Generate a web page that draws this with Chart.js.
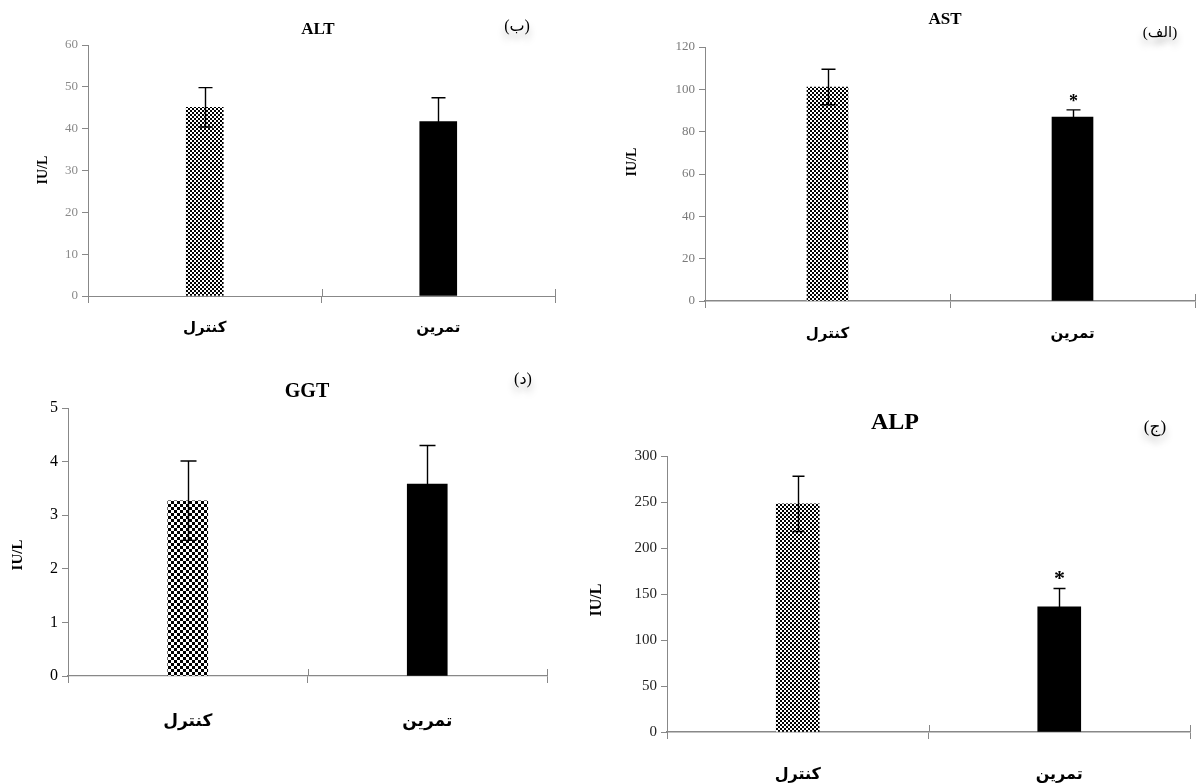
<!DOCTYPE html>
<html>
<head>
<meta charset="utf-8">
<script src="https://cdn.jsdelivr.net/npm/chart.js@4.4.1/dist/chart.umd.min.js"></script>
<style>
  html, body { margin: 0; padding: 0; background: #fff; }
  #wrap { position: relative; width: 1200px; height: 783px; overflow: hidden; }
  canvas { position: absolute; left: 0; top: 0; }
</style>
</head>
<body>
<div id="wrap">
  <canvas id="cALT" width="1200" height="783"></canvas>
  <canvas id="cAST" width="1200" height="783"></canvas>
  <canvas id="cGGT" width="1200" height="783"></canvas>
  <canvas id="cALP" width="1200" height="783"></canvas>
</div>
<script>
// ---------- DATA ----------
const categories = ['کنترل', 'تمرین'];

const altMean = [45.1, 41.7];
const altErr  = [4.7, 5.7];
const altSig  = [false, false];

const astMean = [101.1, 86.9];
const astErr  = [8.4, 3.4];
const astSig  = [false, true];

const ggtMean = [3.27, 3.58];
const ggtErr  = [0.74, 0.72];
const ggtSig  = [false, false];

const alpMean = [248, 136];
const alpErr  = [30, 20];
const alpSig  = [false, true];

const altTicks = { min: 0, max: 60, step: 10 };
const astTicks = { min: 0, max: 120, step: 20 };
const ggtTicks = { min: 0, max: 5, step: 1 };
const alpTicks = { min: 0, max: 300, step: 50 };

const panelTitles = ['ALT', 'AST', 'GGT', 'ALP'];
const panelTags   = ['(ب)', '(الف)', '(د)', '(ج)'];
const yTitle = 'IU/L';

// ---------- STYLE / LAYOUT ----------
const W = 1200, H = 783;
const Y_W = 50;
const SERIF = '"Liberation Serif", "DejaVu Serif", serif';
const ARAB = '"Liberation Serif", "DejaVu Sans", sans-serif';

function checker(cell) {
  const c = document.createElement('canvas');
  c.width = cell * 2; c.height = cell * 2;
  const g = c.getContext('2d');
  g.fillStyle = '#fff'; g.fillRect(0, 0, cell * 2, cell * 2);
  g.fillStyle = '#000';
  g.fillRect(0, 0, cell, cell);
  g.fillRect(cell, cell, cell, cell);
  return g.createPattern(c, 'repeat');
}

const panels = [
  { id: 'cALT', mean: altMean, err: altErr, sig: altSig, ticks: altTicks, title: panelTitles[0], tag: panelTags[0],
    area: { l: 88, t: 45, r: 555, b: 296 }, xH: 60, cell: 2, barW: 37, cap: 14,
    tickFont: 13, tickColor: '#8a8a8a', catFont: 15, catPad: 16, axisW: 1,
    titlePos: [318, 30], titleFont: 17, tagPos: [517, 27], tagFont: 16, yTitlePos: [43, 170], yTitleFont: 14 },
  { id: 'cAST', mean: astMean, err: astErr, sig: astSig, ticks: astTicks, title: panelTitles[1], tag: panelTags[1],
    area: { l: 705, t: 47, r: 1195, b: 301 }, xH: 60, cell: 2, barW: 41, cap: 14,
    tickFont: 13, tickColor: '#7a7a7a', catFont: 15, catPad: 17, axisW: 1.6,
    titlePos: [945, 20], titleFont: 17, tagPos: [1160, 33], tagFont: 15, yTitlePos: [632, 162], yTitleFont: 14, starFont: 18 },
  { id: 'cGGT', mean: ggtMean, err: ggtErr, sig: ggtSig, ticks: ggtTicks, title: panelTitles[2], tag: panelTags[2],
    area: { l: 68, t: 408, r: 547, b: 676 }, xH: 70, cell: 3, barW: 40, cap: 16,
    tickFont: 16, tickColor: '#000', catFont: 17, catPad: 28, axisW: 1.3,
    titlePos: [307, 392], titleFont: 20, tagPos: [523, 380], tagFont: 16, yTitlePos: [18, 555], yTitleFont: 15 },
  { id: 'cALP', mean: alpMean, err: alpErr, sig: alpSig, ticks: alpTicks, title: panelTitles[3], tag: panelTags[3],
    area: { l: 667, t: 456, r: 1190, b: 732 }, xH: 51, cell: 2, barW: 43, cap: 12,
    tickFont: 15, tickColor: '#222', catFont: 16, catPad: 26, axisW: 1.6,
    titlePos: [895, 423], titleFont: 24, tagPos: [1155, 428], tagFont: 17, yTitlePos: [597, 600], yTitleFont: 16, starFont: 22 }
];

function makeChart(p) {
  const overlay = {
    id: 'overlay',
    afterDatasetsDraw(chart) {
      const ctx = chart.ctx;
      const ys = chart.scales.y, xs = chart.scales.x;
      const meta = chart.getDatasetMeta(0);
      ctx.save();
      // error bars
      ctx.strokeStyle = '#000'; ctx.lineWidth = 1.4;
      meta.data.forEach((el, i) => {
        const x = Math.round(el.x) + 0.5;
        const yt = ys.getPixelForValue(p.mean[i] + p.err[i]);
        const yb = ys.getPixelForValue(p.mean[i] - p.err[i]);
        ctx.beginPath();
        ctx.moveTo(x, yt); ctx.lineTo(x, yb);
        ctx.moveTo(x - p.cap / 2, yt); ctx.lineTo(x + p.cap / 2, yt);
        ctx.moveTo(x - p.cap / 2, yb); ctx.lineTo(x + p.cap / 2, yb);
        ctx.stroke();
        if (p.sig[i]) {
          ctx.fillStyle = '#000';
          ctx.font = 'bold ' + p.starFont + 'px ' + SERIF;
          ctx.textAlign = 'center'; ctx.textBaseline = 'alphabetic';
          ctx.fillText('*', x, yt - 3);
        }
      });
      // x-axis crossing ticks above the axis
      ctx.strokeStyle = '#888'; ctx.lineWidth = 1;
      const mid = (xs.getPixelForValue(0) + xs.getPixelForValue(1)) / 2;
      [mid, chart.chartArea.right].forEach(px => {
        const xx = Math.round(px) + 0.5;
        ctx.beginPath(); ctx.moveTo(xx, ys.bottom - 7); ctx.lineTo(xx, ys.bottom); ctx.stroke();
      });
      ctx.restore();
    },
    afterDraw(chart) {
      const ctx = chart.ctx;
      ctx.save();
      ctx.fillStyle = '#000';
      ctx.textAlign = 'center'; ctx.textBaseline = 'middle';
      ctx.font = 'bold ' + p.titleFont + 'px ' + SERIF;
      ctx.fillText(p.title, p.titlePos[0], p.titlePos[1]);
      // y title
      ctx.save();
      ctx.translate(p.yTitlePos[0], p.yTitlePos[1]);
      ctx.rotate(-Math.PI / 2);
      ctx.font = 'bold ' + p.yTitleFont + 'px ' + SERIF;
      ctx.fillText(yTitle, 0, 0);
      ctx.restore();
      // tag with soft shadow
      ctx.shadowColor = 'rgba(0,0,0,0.35)';
      ctx.shadowBlur = 7; ctx.shadowOffsetY = 6;
      ctx.font = p.tagFont + 'px ' + ARAB;
      ctx.fillText(p.tag, p.tagPos[0], p.tagPos[1]);
      ctx.restore();
    }
  };

  return new Chart(document.getElementById(p.id), {
    type: 'bar',
    data: {
      labels: categories,
      datasets: [{
        data: p.mean,
        backgroundColor: [checker(p.cell), '#000'],
        borderWidth: 0,
        barThickness: p.barW
      }]
    },
    options: {
      responsive: false,
      animation: false,
      events: [],
      layout: { padding: { left: p.area.l - Y_W, top: p.area.t, right: W - p.area.r, bottom: Math.max(0, H - p.area.b - p.xH) } },
      plugins: { legend: { display: false }, tooltip: { enabled: false }, title: { display: false } },
      scales: {
        x: {
          offset: true,
          afterFit: s => { s.height = p.xH; },
          grid: { offset: true, drawOnChartArea: false, tickLength: 7, color: '#888', lineWidth: 1 },
          border: { color: '#888', width: p.axisW },
          ticks: { padding: p.catPad, color: '#000', font: { family: ARAB, size: p.catFont, weight: 'bold' }, maxRotation: 0 }
        },
        y: {
          min: p.ticks.min, max: p.ticks.max,
          afterFit: s => { s.width = Y_W; },
          grid: { drawOnChartArea: false, tickLength: 6, color: '#888' },
          border: { color: '#888', width: 1 },
          ticks: { stepSize: p.ticks.step, padding: 4, color: p.tickColor, font: { family: SERIF, size: p.tickFont } }
        }
      }
    },
    plugins: [overlay]
  });
}

panels.forEach(makeChart);
</script>
</body>
</html>
